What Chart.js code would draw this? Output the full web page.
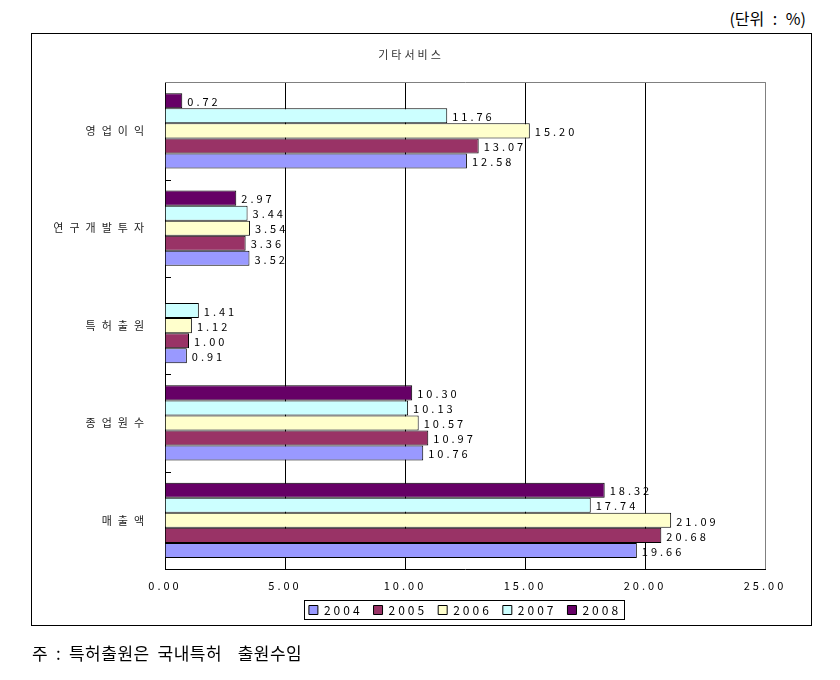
<!DOCTYPE html>
<html>
<head>
<meta charset="utf-8">
<script src="https://cdn.jsdelivr.net/npm/chart.js@4/dist/chart.umd.min.js"></script>
<style>
  body { margin: 0; background: #fff; font-family: "Noto Sans CJK KR", sans-serif; }
  #page { position: relative; width: 840px; height: 680px; overflow: hidden; }
  #unit { position: absolute; right: 34px; top: 6px; font-size: 16px; color: #000; white-space: pre; word-spacing: 5px; }
  #box { position: absolute; left: 31px; top: 33px; width: 781px; height: 593px; box-sizing: border-box; border: 1px solid #000; }
  #chart { position: absolute; left: 32px; top: 34px; }
  #note { position: absolute; left: 32px; top: 640px; font-size: 17px; color: #000; white-space: pre; letter-spacing: 0.5px; word-spacing: 3.5px; }
</style>
</head>
<body>
<div id="page">
  <div id="unit">(단위 : %)</div>
  <div id="box"></div>
  <canvas id="chart" width="778" height="620"></canvas>
  <div id="note">주 : 특허출원은 국내특허  출원수임</div>
</div>
<script>
const categories = ['영업이익', '연구개발투자', '특허출원', '종업원수', '매출액'];
const years = ['2004', '2005', '2006', '2007', '2008'];
const v2004 = [12.58, 3.52, 0.91, 10.76, 19.66];
const v2005 = [13.07, 3.36, 1.00, 10.97, 20.68];
const v2006 = [15.20, 3.54, 1.12, 10.57, 21.09];
const v2007 = [11.76, 3.44, 1.41, 10.13, 17.74];
const v2008 = [0.72, 2.97, null, 10.30, 18.32];
const xMin = 0, xMax = 25, xStep = 5;

const colors = ['#9999FF', '#993366', '#FFFFCC', '#CCFFFF', '#660066'];
const series = [v2004, v2005, v2006, v2007, v2008];

// 2008 is drawn on top of each group, so datasets go in reverse
let datasets = [];
for (let i = years.length - 1; i >= 0; i--) {
  datasets.push({
    label: years[i],
    data: series[i],
    backgroundColor: colors[i],
    borderColor: '#000',
    borderWidth: 1,
    borderSkipped: 'start',
    categoryPercentage: 0.773,
    barPercentage: 1.0
  });
}

const spacing = {
  id: 'spacing',
  beforeUpdate(c) { c.ctx.letterSpacing = '3px'; },
  beforeLayout(c) { c.ctx.letterSpacing = '3px'; },
  beforeDraw(c) { c.ctx.letterSpacing = '3px'; }
};

const extras = {
  id: 'extras',
  afterDatasetsDraw(c) {
    const ctx = c.ctx;
    ctx.save();
    ctx.font = '11px "Noto Sans CJK KR", sans-serif';
    ctx.fillStyle = '#000';
    ctx.textAlign = 'left';
    ctx.textBaseline = 'middle';
    c.data.datasets.forEach((ds, di) => {
      c.getDatasetMeta(di).data.forEach((el, i) => {
        const v = ds.data[i];
        if (v === null) return;
        ctx.fillText(v.toFixed(2), el.x + 5, el.y + 1);
      });
    });
    ctx.restore();
  },
  afterDraw(c) {
    const ctx = c.ctx;
    const a = c.chartArea;
    const y = c.scales.y;
    ctx.save();
    // top border of the plot
    ctx.strokeStyle = '#808080';
    ctx.lineWidth = 1;
    ctx.beginPath();
    ctx.moveTo(a.left, Math.round(a.top) + 0.5);
    ctx.lineTo(a.right + 0.5, Math.round(a.top) + 0.5);
    ctx.stroke();
    // small ticks between categories
    ctx.strokeStyle = '#000';
    ctx.beginPath();
    for (let i = 1; i < categories.length; i++) {
      const py = Math.round((y.getPixelForValue(i - 1) + y.getPixelForValue(i)) / 2) + 0.5;
      ctx.moveTo(a.left, py);
      ctx.lineTo(a.left + 6, py);
    }
    ctx.stroke();
    // frame round the legend
    const boxes = c.legend.legendHitBoxes;
    if (boxes && boxes.length) {
      let l = Infinity, r = -Infinity, t = Infinity, b = -Infinity;
      boxes.forEach(h => {
        l = Math.min(l, h.left); r = Math.max(r, h.left + h.width);
        t = Math.min(t, h.top); b = Math.max(b, h.top + h.height);
      });
      ctx.strokeRect(Math.round(l - 5) + 0.5, Math.round(t - 4) + 0.5, Math.round(r - l + 8), Math.round(b - t + 7));
    }
    ctx.restore();
  }
};

new Chart(document.getElementById('chart'), {
  type: 'bar',
  data: { labels: categories, datasets },
  plugins: [spacing, extras],
  options: {
    indexAxis: 'y',
    responsive: false,
    animation: false,
    layout: { padding: { left: 25, right: 45, top: 0, bottom: 28 } },
    scales: {
      x: {
        min: xMin,
        max: xMax,
        afterFit(s) { s.height = 24; },
        ticks: {
          stepSize: xStep,
          padding: 10,
          color: '#000',
          font: { family: '"Noto Sans CJK KR", sans-serif', size: 11 },
          callback: v => v.toFixed(2)
        },
        grid: {
          drawTicks: false,
          color: ctx => (ctx.tick && ctx.tick.value === xMax) ? '#808080' : '#000',
          lineWidth: 1
        },
        border: { color: '#000', width: 1 }
      },
      y: {
        afterFit(s) {
          s.width = 108;
          // wider spacing for the Korean category names, and no clipping
          if (!s._wideLabels) {
            const draw = s.drawLabels;
            s._computeLabelArea = () => undefined;
            s.drawLabels = function (area) {
              this.ctx.letterSpacing = '6px';
              draw.call(this, area);
              this.ctx.letterSpacing = '3px';
            };
            s._wideLabels = true;
          }
        },
        ticks: {
          padding: 15,
          color: '#222',
          font: { family: '"Noto Sans CJK KR", sans-serif', size: 11 }
        },
        grid: { display: false, drawTicks: false },
        border: { color: '#000', width: 1 }
      }
    },
    plugins: {
      title: {
        display: true,
        text: '기타서비스',
        color: '#333',
        font: { family: '"Noto Sans CJK KR", sans-serif', size: 11, weight: 'normal' },
        padding: { top: 14, bottom: 21 }
      },
      legend: {
        position: 'bottom',
        fullSize: false,
        reverse: true,
        labels: {
          boxWidth: 9,
          boxHeight: 9,
          padding: 11,
          color: '#000',
          font: { family: '"Noto Sans CJK KR", sans-serif', size: 12 }
        }
      },
      tooltip: { enabled: false }
    }
  }
});
</script>
</body>
</html>
